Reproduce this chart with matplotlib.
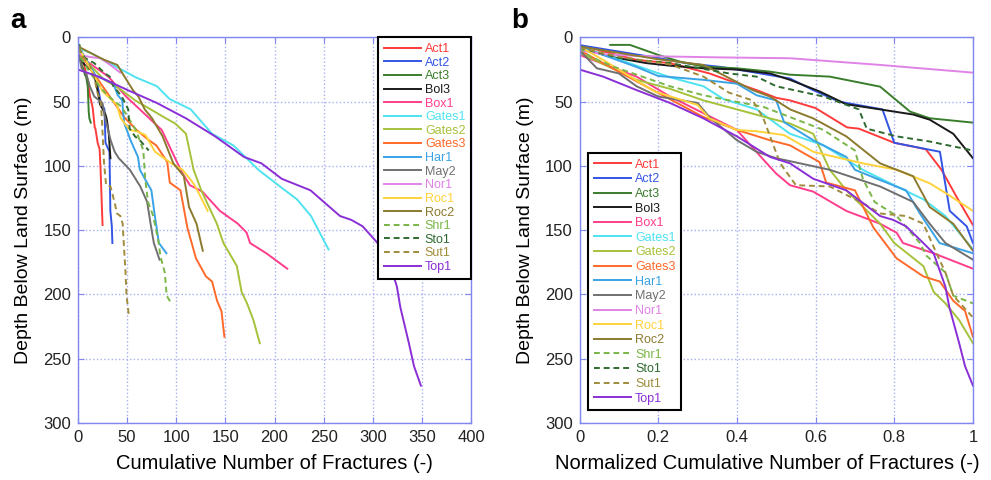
import matplotlib
matplotlib.use("Agg")
import matplotlib.pyplot as plt

plt.rcParams['font.family'] = ['Liberation Sans', 'DejaVu Sans']

# --- data -----------------------------------------------------------------
# each well: depth (m), fraction of the well's total fracture count (panel b),
# and the total fracture count (panel a = fraction * total)

act1_total = 25
act1_frac = [0, 0.145, 0.23, 0.33, 0.366, 0.45, 0.5, 0.535, 0.6, 0.68, 0.71, 0.8, 0.88, 0.92, 0.96, 1.0]
act1_depth = [6, 17.5, 20, 28, 32, 41, 47, 49, 55, 70, 71, 82, 87, 103, 125, 146]

act2_total = 35
act2_frac = [0, 0.12, 0.2, 0.27, 0.36, 0.44, 0.535, 0.594, 0.66, 0.77, 0.8, 0.916, 0.941, 0.984, 1.0]
act2_depth = [6, 12, 16, 20, 23, 27, 32, 41, 50, 56, 82, 89, 135, 147, 160]

act3_total = 13
act3_frac = [0.078, 0.128, 0.2, 0.255, 0.315, 0.4, 0.484, 0.535, 0.636, 0.764, 0.84, 0.89, 1.0]
act3_depth = [5.8, 5.8, 13.6, 18.8, 22.7, 24, 26.6, 29, 30.5, 38.3, 57.7, 62.9, 66.3]

bol3_total = 33
bol3_frac = [0, 0.078, 0.17, 0.23, 0.315, 0.4, 0.484, 0.535, 0.61, 0.678, 0.764, 0.848, 0.89, 0.95, 1.0]
bol3_depth = [8, 15, 20, 22, 24, 25, 28, 33, 42, 52, 56, 60, 64, 75, 94]

box1_total = 213
box1_frac = [0, 0.078, 0.145, 0.23, 0.315, 0.4, 0.467, 0.5, 0.535, 0.594, 0.678, 0.764, 0.806, 0.822, 0.9, 1.0]
box1_depth = [13.6, 22.7, 30.5, 46, 59, 72, 95, 106, 115, 120, 135, 145, 152, 160, 168, 180]

gates1_total = 255
gates1_frac = [0, 0.06, 0.145, 0.23, 0.315, 0.366, 0.45, 0.535, 0.62, 0.72, 0.806, 0.874, 0.93, 1.0]
gates1_depth = [8, 13, 22, 31, 38, 48, 56, 75, 84, 103, 116, 126, 139, 165]

gates2_total = 185
gates2_frac = [0, 0.145, 0.23, 0.315, 0.4, 0.484, 0.535, 0.594, 0.636, 0.678, 0.764, 0.80, 0.874, 0.9, 0.93, 0.965, 1.0]
gates2_depth = [12, 33, 40, 49, 56, 63, 67, 75, 103, 119, 145, 160, 178, 198, 207, 220, 238]

gates3_total = 149
gates3_frac = [0, 0.15, 0.315, 0.4, 0.484, 0.535, 0.61, 0.627, 0.7, 0.747, 0.806, 0.874, 0.916, 0.95, 0.98, 1.0]
gates3_depth = [10, 35, 62, 72, 80, 84, 97, 113, 119, 148, 172, 186, 190, 205, 213, 233]

har1_total = 90
har1_frac = [0, 0.145, 0.2, 0.315, 0.4, 0.45, 0.5, 0.52, 0.594, 0.678, 0.7, 0.764, 0.83, 0.865, 0.915, 1.0]
har1_depth = [7, 23, 30, 33, 36, 45, 49, 66, 80, 93, 103, 111, 119, 137, 160, 168]

may2_total = 83
may2_frac = [0, 0.044, 0.1, 0.145, 0.2, 0.3, 0.33, 0.4, 0.45, 0.5, 0.636, 0.764, 0.848, 0.89, 0.93, 1.0]
may2_depth = [10, 24, 28, 38, 46, 51, 62, 80, 89, 94, 103, 116, 128, 145, 160, 173]

nor1_total = 43
nor1_frac = [0, 0.06, 0.145, 0.35, 0.535, 0.764, 1.0]
nor1_depth = [10, 13, 14.4, 15.5, 16.2, 21.4, 27.4]

roc1_total = 132
roc1_frac = [0, 0.06, 0.19, 0.3, 0.33, 0.4, 0.45, 0.52, 0.594, 0.72, 0.806, 0.89, 0.93, 1.0]
roc1_depth = [7, 17.5, 42, 52.5, 63, 72, 73, 76, 89, 98, 103, 113.5, 121, 135]

roc2_total = 127
roc2_frac = [0, 0.1, 0.2, 0.315, 0.44, 0.484, 0.535, 0.594, 0.678, 0.764, 0.848, 0.89, 0.95, 1.0]
roc2_depth = [7, 12, 17, 21.4, 41, 46, 56, 63, 77, 98, 108, 132, 145, 166]

shr1_total = 95
shr1_frac = [0, 0.027, 0.086, 0.23, 0.315, 0.38, 0.467, 0.535, 0.62, 0.7, 0.72, 0.75, 0.806, 0.865, 0.882, 0.93, 0.95, 1.0]
shr1_depth = [8, 15, 22.7, 38, 45, 49, 54, 62, 72, 88, 110, 128, 139, 160, 170, 183, 201, 207]

sto1_total = 72
sto1_frac = [0, 0.1, 0.23, 0.38, 0.45, 0.5, 0.62, 0.71, 0.73, 0.806, 0.89, 1.0]
sto1_depth = [8, 16, 20, 28, 30.5, 38, 46, 56, 71, 77, 81, 88]

sut1_total = 52
sut1_frac = [0, 0.1, 0.23, 0.315, 0.38, 0.44, 0.466, 0.51, 0.55, 0.636, 0.72, 0.764, 0.83, 0.874, 0.9, 0.93, 0.95, 1.0]
sut1_depth = [8, 15, 21, 30.5, 43, 49, 62, 98, 115, 116, 129, 137, 139, 145, 163, 183, 201, 218]

top1_total = 349
top1_frac = [0, 0.06, 0.145, 0.23, 0.315, 0.4, 0.484, 0.535, 0.594, 0.678, 0.764, 0.797, 0.83, 0.867, 0.9, 0.93, 0.94, 0.965, 0.98, 1.0]
top1_depth = [25, 30.5, 41, 51, 63, 77, 93, 98, 110, 119, 139, 142, 147, 158, 168, 194, 210, 238, 256, 271]

wells = [
    ("Act1", act1_total, act1_frac, act1_depth, '#ff3b3b', '-'),
    ("Act2", act2_total, act2_frac, act2_depth, '#3355e6', '-'),
    ("Act3", act3_total, act3_frac, act3_depth, '#3a7d2c', '-'),
    ("Bol3", bol3_total, bol3_frac, bol3_depth, '#1a1a1a', '-'),
    ("Box1", box1_total, box1_frac, box1_depth, '#ff3d8b', '-'),
    ("Gates1", gates1_total, gates1_frac, gates1_depth, '#4fe3f0', '-'),
    ("Gates2", gates2_total, gates2_frac, gates2_depth, '#a5c23a', '-'),
    ("Gates3", gates3_total, gates3_frac, gates3_depth, '#ff6a2a', '-'),
    ("Har1", har1_total, har1_frac, har1_depth, '#3aa3e6', '-'),
    ("May2", may2_total, may2_frac, may2_depth, '#707070', '-'),
    ("Nor1", nor1_total, nor1_frac, nor1_depth, '#e083e6', '-'),
    ("Roc1", roc1_total, roc1_frac, roc1_depth, '#ffd23a', '-'),
    ("Roc2", roc2_total, roc2_frac, roc2_depth, '#8c7a2e', '-'),
    ("Shr1", shr1_total, shr1_frac, shr1_depth, '#7ab648', '--'),
    ("Sto1", sto1_total, sto1_frac, sto1_depth, '#2f6b30', '--'),
    ("Sut1", sut1_total, sut1_frac, sut1_depth, '#a08c3c', '--'),
    ("Top1", top1_total, top1_frac, top1_depth, '#8a2fd6', '-'),
]

x_ticks_a = [0, 50, 100, 150, 200, 250, 300, 350, 400]
x_ticks_b = [0, 0.2, 0.4, 0.6, 0.8, 1.0]
x_labels_b = ["0", "0.2", "0.4", "0.6", "0.8", "1"]
y_ticks = [0, 50, 100, 150, 200, 250, 300]

frame_col = '#8088f0'
grid_col = '#a8aef2'

fig = plt.figure(figsize=(9.91, 4.80), dpi=100)
ax_a = fig.add_axes([0.0787, 0.119, 0.3966, 0.803])
ax_b = fig.add_axes([0.5848, 0.119, 0.397, 0.803])


def style_axes(ax):
    ax.set_ylim(300, 0)
    ax.set_yticks(y_ticks)
    ax.grid(True, linestyle=':', color=grid_col, linewidth=1.0)
    ax.set_axisbelow(True)
    for s in ax.spines.values():
        s.set_color(frame_col)
        s.set_linewidth(1.0)
    ax.tick_params(direction='in', length=4, color=frame_col, labelsize=12,
                   labelcolor='#222222', pad=5, top=True, right=True)
    ax.set_ylabel("Depth Below Land Surface (m)", fontsize=14, labelpad=8)


for name, total, frac, depth, col, ls in wells:
    xs = [f * total for f in frac]
    dash = dict(dashes=(3, 2)) if ls == '--' else {}
    ax_a.plot(xs, depth, ls, color=col, lw=1.4, label=name, **dash)
    ax_b.plot(frac, depth, ls, color=col, lw=1.4, label=name, **dash)

style_axes(ax_a)
ax_a.set_xlim(0, 400)
ax_a.set_xticks(x_ticks_a)
ax_a.set_xlabel("Cumulative Number of Fractures (-)", fontsize=14.5)
ax_a.xaxis.set_label_coords(0.5, -0.08)

style_axes(ax_b)
ax_b.set_xlim(0, 1)
ax_b.set_xticks(x_ticks_b)
ax_b.set_xticklabels(x_labels_b)
ax_b.set_xlabel("Normalized Cumulative Number of Fractures (-)", fontsize=14.5)
ax_b.xaxis.set_label_coords(0.477, -0.08)

leg_kw = dict(fontsize=9, labelcolor='linecolor', fancybox=False, framealpha=1,
              edgecolor='black', handlelength=3.0, handletextpad=0.3,
              borderpad=0.45, borderaxespad=0)
leg_a = ax_a.legend(loc='upper right', bbox_to_anchor=(1.0, 1.0), labelspacing=0.13, **leg_kw)
leg_a.get_frame().set_linewidth(1.5)
leg_b = ax_b.legend(loc='upper left', bbox_to_anchor=(0.0216, 0.70), labelspacing=0.21, **leg_kw)
leg_b.get_frame().set_linewidth(1.5)

fig.text(0.010, 0.942, "a", fontsize=20, fontweight='bold')
fig.text(0.516, 0.942, "b", fontsize=20, fontweight='bold')

fig.savefig("out.png", dpi=100)
